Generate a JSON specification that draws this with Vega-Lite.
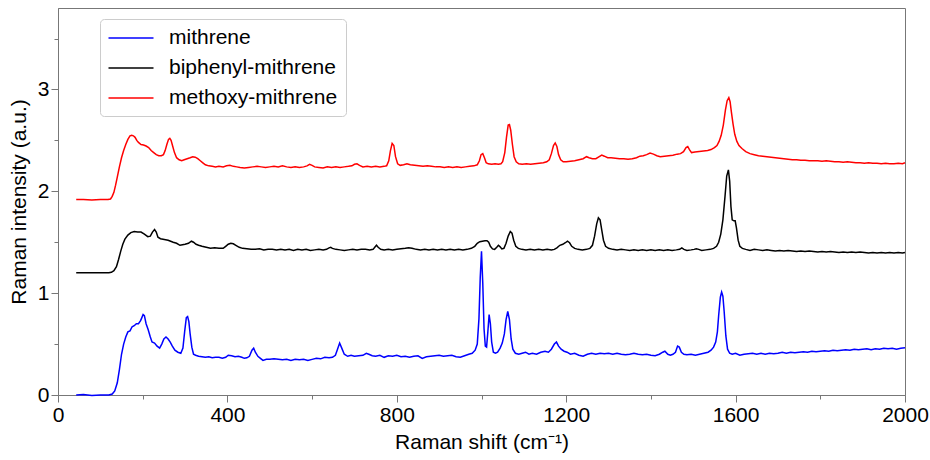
{
  "$schema": "https://vega.github.io/schema/vega-lite/v6.json",
  "width": 847,
  "height": 387,
  "autosize": {"type": "none"},
  "padding": {"left": 58, "top": 8, "right": 25, "bottom": 65},
  "background": "white",
  "config": {
    "view": {"stroke": "#777777", "strokeWidth": 1},
    "font": "Liberation Sans",
    "axis": {
      "domainColor": "#777777",
      "tickColor": "#777777",
      "labelColor": "#000000",
      "titleColor": "#000000",
      "labelFont": "Liberation Sans",
      "titleFont": "Liberation Sans",
      "labelFontSize": 21,
      "titleFontSize": 21,
      "titleFontWeight": "normal",
      "grid": false,
      "labelPadding": 2
    }
  },
  "datasets": {
    "m": [
      {"x":43,"y":0.0},{"x":60,"y":0.005},{"x":80,"y":-0.005},{"x":100,"y":0.0},{"x":120,"y":0.0},{"x":128,"y":0.01},{"x":134,"y":0.04},{"x":140,"y":0.12},{"x":145,"y":0.25},{"x":150,"y":0.40},{"x":155,"y":0.50},{"x":160,"y":0.57},{"x":165,"y":0.62},{"x":170,"y":0.63},{"x":175,"y":0.67},{"x":180,"y":0.68},{"x":185,"y":0.70},{"x":190,"y":0.70},{"x":195,"y":0.73},{"x":198,"y":0.76},{"x":201,"y":0.79},{"x":204,"y":0.78},{"x":208,"y":0.70},{"x":213,"y":0.64},{"x":218,"y":0.57},{"x":222,"y":0.52},{"x":228,"y":0.51},{"x":234,"y":0.48},{"x":240,"y":0.46},{"x":245,"y":0.50},{"x":250,"y":0.55},{"x":255,"y":0.57},{"x":260,"y":0.55},{"x":265,"y":0.52},{"x":270,"y":0.48},{"x":276,"y":0.44},{"x":283,"y":0.42},{"x":290,"y":0.41},{"x":295,"y":0.46},{"x":299,"y":0.62},{"x":303,"y":0.76},{"x":306,"y":0.77},{"x":309,"y":0.72},{"x":312,"y":0.60},{"x":316,"y":0.47},{"x":320,"y":0.40},{"x":325,"y":0.39},{"x":332,"y":0.38},{"x":340,"y":0.375},{"x":348,"y":0.37},{"x":356,"y":0.375},{"x":364,"y":0.365},{"x":372,"y":0.37},{"x":380,"y":0.37},{"x":388,"y":0.36},{"x":396,"y":0.37},{"x":402,"y":0.39},{"x":410,"y":0.385},{"x":418,"y":0.375},{"x":426,"y":0.38},{"x":434,"y":0.37},{"x":440,"y":0.36},{"x":446,"y":0.365},{"x":452,"y":0.38},{"x":458,"y":0.44},{"x":462,"y":0.46},{"x":466,"y":0.42},{"x":472,"y":0.38},{"x":478,"y":0.36},{"x":484,"y":0.34},{"x":492,"y":0.35},{"x":500,"y":0.35},{"x":510,"y":0.355},{"x":520,"y":0.35},{"x":530,"y":0.345},{"x":540,"y":0.35},{"x":550,"y":0.34},{"x":560,"y":0.35},{"x":570,"y":0.345},{"x":580,"y":0.35},{"x":590,"y":0.34},{"x":600,"y":0.35},{"x":610,"y":0.36},{"x":620,"y":0.355},{"x":630,"y":0.37},{"x":640,"y":0.365},{"x":648,"y":0.37},{"x":655,"y":0.39},{"x":660,"y":0.45},{"x":665,"y":0.51},{"x":670,"y":0.46},{"x":676,"y":0.40},{"x":684,"y":0.38},{"x":692,"y":0.39},{"x":700,"y":0.38},{"x":710,"y":0.385},{"x":720,"y":0.39},{"x":728,"y":0.41},{"x":734,"y":0.40},{"x":742,"y":0.385},{"x":750,"y":0.38},{"x":760,"y":0.39},{"x":770,"y":0.37},{"x":780,"y":0.385},{"x":790,"y":0.38},{"x":800,"y":0.39},{"x":810,"y":0.375},{"x":820,"y":0.38},{"x":830,"y":0.37},{"x":840,"y":0.38},{"x":850,"y":0.385},{"x":860,"y":0.36},{"x":870,"y":0.375},{"x":880,"y":0.38},{"x":890,"y":0.385},{"x":900,"y":0.39},{"x":910,"y":0.38},{"x":920,"y":0.385},{"x":930,"y":0.39},{"x":940,"y":0.375},{"x":950,"y":0.37},{"x":960,"y":0.385},{"x":970,"y":0.40},{"x":978,"y":0.41},{"x":985,"y":0.44},{"x":990,"y":0.50},{"x":994,"y":0.75},{"x":997,"y":1.15},{"x":1000,"y":1.41},{"x":1003,"y":1.1},{"x":1006,"y":0.65},{"x":1009,"y":0.48},{"x":1012,"y":0.47},{"x":1015,"y":0.62},{"x":1018,"y":0.79},{"x":1021,"y":0.70},{"x":1024,"y":0.52},{"x":1028,"y":0.42},{"x":1033,"y":0.41},{"x":1038,"y":0.42},{"x":1044,"y":0.46},{"x":1049,"y":0.51},{"x":1054,"y":0.60},{"x":1058,"y":0.74},{"x":1062,"y":0.82},{"x":1066,"y":0.74},{"x":1070,"y":0.55},{"x":1074,"y":0.45},{"x":1080,"y":0.41},{"x":1088,"y":0.40},{"x":1096,"y":0.41},{"x":1104,"y":0.42},{"x":1112,"y":0.40},{"x":1120,"y":0.41},{"x":1130,"y":0.40},{"x":1140,"y":0.42},{"x":1150,"y":0.43},{"x":1158,"y":0.42},{"x":1165,"y":0.45},{"x":1172,"y":0.50},{"x":1177,"y":0.52},{"x":1182,"y":0.48},{"x":1188,"y":0.45},{"x":1195,"y":0.43},{"x":1202,"y":0.42},{"x":1210,"y":0.40},{"x":1220,"y":0.41},{"x":1230,"y":0.39},{"x":1240,"y":0.38},{"x":1250,"y":0.40},{"x":1260,"y":0.41},{"x":1270,"y":0.40},{"x":1280,"y":0.41},{"x":1290,"y":0.405},{"x":1300,"y":0.41},{"x":1310,"y":0.40},{"x":1320,"y":0.41},{"x":1330,"y":0.40},{"x":1340,"y":0.395},{"x":1350,"y":0.40},{"x":1360,"y":0.41},{"x":1370,"y":0.40},{"x":1380,"y":0.395},{"x":1390,"y":0.40},{"x":1400,"y":0.39},{"x":1410,"y":0.385},{"x":1420,"y":0.40},{"x":1428,"y":0.42},{"x":1433,"y":0.43},{"x":1440,"y":0.40},{"x":1446,"y":0.39},{"x":1452,"y":0.40},{"x":1458,"y":0.42},{"x":1463,"y":0.48},{"x":1467,"y":0.47},{"x":1472,"y":0.42},{"x":1478,"y":0.40},{"x":1485,"y":0.395},{"x":1495,"y":0.40},{"x":1505,"y":0.39},{"x":1515,"y":0.40},{"x":1525,"y":0.41},{"x":1535,"y":0.42},{"x":1542,"y":0.44},{"x":1548,"y":0.47},{"x":1553,"y":0.52},{"x":1557,"y":0.62},{"x":1560,"y":0.78},{"x":1564,"y":0.96},{"x":1567,"y":1.01},{"x":1570,"y":0.97},{"x":1573,"y":0.82},{"x":1577,"y":0.58},{"x":1581,"y":0.45},{"x":1586,"y":0.41},{"x":1592,"y":0.40},{"x":1600,"y":0.41},{"x":1610,"y":0.39},{"x":1620,"y":0.40},{"x":1630,"y":0.405},{"x":1640,"y":0.41},{"x":1650,"y":0.40},{"x":1660,"y":0.41},{"x":1670,"y":0.40},{"x":1680,"y":0.41},{"x":1690,"y":0.405},{"x":1700,"y":0.41},{"x":1710,"y":0.42},{"x":1720,"y":0.41},{"x":1730,"y":0.42},{"x":1740,"y":0.415},{"x":1750,"y":0.42},{"x":1760,"y":0.425},{"x":1770,"y":0.42},{"x":1780,"y":0.43},{"x":1790,"y":0.425},{"x":1800,"y":0.43},{"x":1810,"y":0.435},{"x":1820,"y":0.43},{"x":1830,"y":0.44},{"x":1840,"y":0.435},{"x":1850,"y":0.44},{"x":1860,"y":0.445},{"x":1870,"y":0.44},{"x":1880,"y":0.45},{"x":1890,"y":0.445},{"x":1900,"y":0.45},{"x":1910,"y":0.455},{"x":1920,"y":0.445},{"x":1930,"y":0.455},{"x":1940,"y":0.45},{"x":1950,"y":0.46},{"x":1960,"y":0.455},{"x":1970,"y":0.46},{"x":1980,"y":0.45},{"x":1990,"y":0.46},{"x":2000,"y":0.465}
    ],
    "b": [
      {"x":43,"y":1.2},{"x":60,"y":1.2},{"x":80,"y":1.2},{"x":100,"y":1.2},{"x":120,"y":1.2},{"x":126,"y":1.205},{"x":132,"y":1.22},{"x":138,"y":1.26},{"x":143,"y":1.33},{"x":148,"y":1.41},{"x":153,"y":1.48},{"x":158,"y":1.53},{"x":165,"y":1.57},{"x":172,"y":1.595},{"x":180,"y":1.605},{"x":188,"y":1.60},{"x":196,"y":1.60},{"x":204,"y":1.58},{"x":212,"y":1.555},{"x":218,"y":1.56},{"x":223,"y":1.60},{"x":228,"y":1.625},{"x":232,"y":1.60},{"x":236,"y":1.55},{"x":242,"y":1.535},{"x":248,"y":1.53},{"x":254,"y":1.525},{"x":260,"y":1.52},{"x":266,"y":1.51},{"x":272,"y":1.50},{"x":280,"y":1.49},{"x":288,"y":1.47},{"x":294,"y":1.475},{"x":300,"y":1.48},{"x":308,"y":1.49},{"x":315,"y":1.51},{"x":320,"y":1.50},{"x":326,"y":1.48},{"x":332,"y":1.47},{"x":340,"y":1.46},{"x":350,"y":1.45},{"x":360,"y":1.44},{"x":370,"y":1.445},{"x":380,"y":1.44},{"x":390,"y":1.44},{"x":396,"y":1.46},{"x":402,"y":1.48},{"x":408,"y":1.49},{"x":414,"y":1.485},{"x":420,"y":1.47},{"x":428,"y":1.45},{"x":436,"y":1.44},{"x":446,"y":1.435},{"x":456,"y":1.43},{"x":466,"y":1.43},{"x":476,"y":1.435},{"x":486,"y":1.425},{"x":496,"y":1.43},{"x":506,"y":1.43},{"x":516,"y":1.425},{"x":526,"y":1.43},{"x":536,"y":1.425},{"x":546,"y":1.43},{"x":556,"y":1.42},{"x":566,"y":1.43},{"x":576,"y":1.425},{"x":586,"y":1.43},{"x":596,"y":1.42},{"x":606,"y":1.425},{"x":616,"y":1.43},{"x":626,"y":1.425},{"x":634,"y":1.43},{"x":640,"y":1.445},{"x":644,"y":1.45},{"x":648,"y":1.44},{"x":656,"y":1.43},{"x":666,"y":1.425},{"x":676,"y":1.42},{"x":686,"y":1.425},{"x":696,"y":1.43},{"x":706,"y":1.425},{"x":716,"y":1.43},{"x":726,"y":1.43},{"x":736,"y":1.425},{"x":744,"y":1.43},{"x":748,"y":1.45},{"x":752,"y":1.47},{"x":756,"y":1.45},{"x":762,"y":1.43},{"x":770,"y":1.425},{"x":780,"y":1.43},{"x":790,"y":1.425},{"x":800,"y":1.43},{"x":810,"y":1.435},{"x":820,"y":1.44},{"x":828,"y":1.445},{"x":836,"y":1.44},{"x":846,"y":1.43},{"x":856,"y":1.425},{"x":866,"y":1.43},{"x":876,"y":1.425},{"x":886,"y":1.43},{"x":896,"y":1.425},{"x":906,"y":1.43},{"x":916,"y":1.425},{"x":926,"y":1.43},{"x":936,"y":1.425},{"x":946,"y":1.43},{"x":956,"y":1.425},{"x":966,"y":1.43},{"x":976,"y":1.44},{"x":984,"y":1.46},{"x":990,"y":1.49},{"x":996,"y":1.505},{"x":1002,"y":1.51},{"x":1008,"y":1.515},{"x":1013,"y":1.515},{"x":1017,"y":1.50},{"x":1021,"y":1.46},{"x":1026,"y":1.435},{"x":1031,"y":1.43},{"x":1036,"y":1.45},{"x":1040,"y":1.47},{"x":1044,"y":1.455},{"x":1048,"y":1.435},{"x":1053,"y":1.44},{"x":1058,"y":1.49},{"x":1063,"y":1.56},{"x":1068,"y":1.605},{"x":1072,"y":1.59},{"x":1076,"y":1.52},{"x":1081,"y":1.46},{"x":1087,"y":1.44},{"x":1095,"y":1.43},{"x":1105,"y":1.425},{"x":1115,"y":1.43},{"x":1125,"y":1.425},{"x":1135,"y":1.43},{"x":1145,"y":1.425},{"x":1155,"y":1.43},{"x":1165,"y":1.425},{"x":1172,"y":1.43},{"x":1178,"y":1.445},{"x":1185,"y":1.47},{"x":1192,"y":1.48},{"x":1198,"y":1.495},{"x":1203,"y":1.51},{"x":1208,"y":1.495},{"x":1213,"y":1.46},{"x":1220,"y":1.44},{"x":1228,"y":1.43},{"x":1238,"y":1.425},{"x":1248,"y":1.43},{"x":1256,"y":1.44},{"x":1262,"y":1.47},{"x":1267,"y":1.56},{"x":1272,"y":1.68},{"x":1276,"y":1.74},{"x":1280,"y":1.72},{"x":1284,"y":1.62},{"x":1288,"y":1.52},{"x":1293,"y":1.46},{"x":1300,"y":1.44},{"x":1310,"y":1.43},{"x":1320,"y":1.425},{"x":1330,"y":1.43},{"x":1340,"y":1.425},{"x":1350,"y":1.42},{"x":1360,"y":1.425},{"x":1370,"y":1.42},{"x":1380,"y":1.425},{"x":1390,"y":1.42},{"x":1400,"y":1.425},{"x":1410,"y":1.42},{"x":1420,"y":1.425},{"x":1430,"y":1.42},{"x":1440,"y":1.425},{"x":1450,"y":1.42},{"x":1460,"y":1.425},{"x":1468,"y":1.43},{"x":1473,"y":1.445},{"x":1478,"y":1.43},{"x":1485,"y":1.42},{"x":1495,"y":1.425},{"x":1502,"y":1.43},{"x":1507,"y":1.435},{"x":1513,"y":1.43},{"x":1520,"y":1.42},{"x":1530,"y":1.425},{"x":1540,"y":1.43},{"x":1548,"y":1.44},{"x":1555,"y":1.46},{"x":1560,"y":1.50},{"x":1565,"y":1.58},{"x":1570,"y":1.72},{"x":1575,"y":1.95},{"x":1579,"y":2.15},{"x":1583,"y":2.21},{"x":1586,"y":2.10},{"x":1589,"y":1.85},{"x":1592,"y":1.72},{"x":1596,"y":1.71},{"x":1599,"y":1.71},{"x":1602,"y":1.64},{"x":1606,"y":1.52},{"x":1610,"y":1.46},{"x":1616,"y":1.44},{"x":1624,"y":1.43},{"x":1634,"y":1.42},{"x":1644,"y":1.43},{"x":1654,"y":1.425},{"x":1664,"y":1.42},{"x":1674,"y":1.425},{"x":1684,"y":1.42},{"x":1694,"y":1.415},{"x":1704,"y":1.42},{"x":1714,"y":1.415},{"x":1724,"y":1.42},{"x":1734,"y":1.415},{"x":1744,"y":1.41},{"x":1754,"y":1.415},{"x":1764,"y":1.41},{"x":1774,"y":1.415},{"x":1784,"y":1.41},{"x":1794,"y":1.405},{"x":1804,"y":1.41},{"x":1814,"y":1.405},{"x":1824,"y":1.41},{"x":1834,"y":1.405},{"x":1844,"y":1.40},{"x":1854,"y":1.405},{"x":1864,"y":1.40},{"x":1874,"y":1.405},{"x":1884,"y":1.40},{"x":1894,"y":1.405},{"x":1904,"y":1.40},{"x":1914,"y":1.395},{"x":1924,"y":1.40},{"x":1934,"y":1.395},{"x":1944,"y":1.40},{"x":1954,"y":1.395},{"x":1964,"y":1.40},{"x":1974,"y":1.395},{"x":1984,"y":1.40},{"x":1994,"y":1.395},{"x":2000,"y":1.40}
    ],
    "o": [
      {"x":43,"y":1.92},{"x":60,"y":1.92},{"x":80,"y":1.915},{"x":100,"y":1.92},{"x":118,"y":1.92},{"x":124,"y":1.925},{"x":128,"y":1.95},{"x":132,"y":1.99},{"x":136,"y":2.06},{"x":140,"y":2.14},{"x":145,"y":2.24},{"x":150,"y":2.33},{"x":155,"y":2.40},{"x":160,"y":2.46},{"x":165,"y":2.51},{"x":170,"y":2.545},{"x":174,"y":2.55},{"x":178,"y":2.545},{"x":182,"y":2.53},{"x":186,"y":2.50},{"x":190,"y":2.48},{"x":196,"y":2.46},{"x":202,"y":2.455},{"x":208,"y":2.445},{"x":214,"y":2.43},{"x":220,"y":2.40},{"x":226,"y":2.38},{"x":232,"y":2.36},{"x":238,"y":2.35},{"x":244,"y":2.35},{"x":249,"y":2.36},{"x":253,"y":2.40},{"x":257,"y":2.46},{"x":261,"y":2.51},{"x":264,"y":2.52},{"x":267,"y":2.50},{"x":271,"y":2.44},{"x":275,"y":2.38},{"x":280,"y":2.33},{"x":286,"y":2.31},{"x":292,"y":2.30},{"x":298,"y":2.31},{"x":305,"y":2.32},{"x":312,"y":2.33},{"x":318,"y":2.34},{"x":324,"y":2.335},{"x":330,"y":2.32},{"x":336,"y":2.30},{"x":342,"y":2.28},{"x":348,"y":2.26},{"x":356,"y":2.25},{"x":364,"y":2.245},{"x":372,"y":2.24},{"x":380,"y":2.245},{"x":390,"y":2.24},{"x":398,"y":2.25},{"x":406,"y":2.255},{"x":414,"y":2.245},{"x":422,"y":2.24},{"x":430,"y":2.235},{"x":440,"y":2.23},{"x":450,"y":2.235},{"x":460,"y":2.24},{"x":470,"y":2.245},{"x":480,"y":2.24},{"x":490,"y":2.235},{"x":500,"y":2.24},{"x":510,"y":2.245},{"x":520,"y":2.24},{"x":530,"y":2.25},{"x":540,"y":2.24},{"x":550,"y":2.235},{"x":560,"y":2.24},{"x":570,"y":2.235},{"x":580,"y":2.24},{"x":588,"y":2.25},{"x":594,"y":2.265},{"x":600,"y":2.255},{"x":606,"y":2.24},{"x":616,"y":2.235},{"x":626,"y":2.23},{"x":636,"y":2.24},{"x":646,"y":2.235},{"x":656,"y":2.24},{"x":666,"y":2.235},{"x":676,"y":2.24},{"x":686,"y":2.245},{"x":694,"y":2.25},{"x":700,"y":2.265},{"x":706,"y":2.27},{"x":712,"y":2.255},{"x":720,"y":2.24},{"x":730,"y":2.245},{"x":740,"y":2.24},{"x":750,"y":2.245},{"x":760,"y":2.24},{"x":770,"y":2.245},{"x":776,"y":2.25},{"x":781,"y":2.30},{"x":785,"y":2.40},{"x":789,"y":2.47},{"x":793,"y":2.45},{"x":797,"y":2.34},{"x":802,"y":2.27},{"x":808,"y":2.255},{"x":816,"y":2.26},{"x":824,"y":2.27},{"x":832,"y":2.26},{"x":842,"y":2.255},{"x":852,"y":2.25},{"x":862,"y":2.245},{"x":872,"y":2.25},{"x":882,"y":2.245},{"x":892,"y":2.24},{"x":902,"y":2.24},{"x":912,"y":2.235},{"x":922,"y":2.24},{"x":932,"y":2.235},{"x":942,"y":2.24},{"x":952,"y":2.235},{"x":962,"y":2.24},{"x":972,"y":2.245},{"x":982,"y":2.25},{"x":990,"y":2.26},{"x":995,"y":2.30},{"x":999,"y":2.36},{"x":1003,"y":2.37},{"x":1007,"y":2.33},{"x":1011,"y":2.28},{"x":1016,"y":2.27},{"x":1024,"y":2.265},{"x":1032,"y":2.27},{"x":1040,"y":2.265},{"x":1046,"y":2.27},{"x":1050,"y":2.29},{"x":1055,"y":2.38},{"x":1059,"y":2.53},{"x":1063,"y":2.65},{"x":1066,"y":2.655},{"x":1069,"y":2.60},{"x":1073,"y":2.46},{"x":1077,"y":2.34},{"x":1082,"y":2.29},{"x":1088,"y":2.27},{"x":1096,"y":2.265},{"x":1106,"y":2.27},{"x":1116,"y":2.265},{"x":1126,"y":2.27},{"x":1136,"y":2.275},{"x":1146,"y":2.28},{"x":1154,"y":2.29},{"x":1160,"y":2.31},{"x":1165,"y":2.37},{"x":1170,"y":2.45},{"x":1174,"y":2.475},{"x":1178,"y":2.44},{"x":1182,"y":2.36},{"x":1187,"y":2.31},{"x":1193,"y":2.29},{"x":1200,"y":2.29},{"x":1210,"y":2.295},{"x":1220,"y":2.30},{"x":1230,"y":2.31},{"x":1240,"y":2.32},{"x":1248,"y":2.34},{"x":1254,"y":2.33},{"x":1262,"y":2.32},{"x":1270,"y":2.32},{"x":1278,"y":2.34},{"x":1284,"y":2.355},{"x":1290,"y":2.345},{"x":1298,"y":2.33},{"x":1306,"y":2.33},{"x":1316,"y":2.325},{"x":1326,"y":2.32},{"x":1336,"y":2.32},{"x":1346,"y":2.315},{"x":1356,"y":2.32},{"x":1366,"y":2.33},{"x":1374,"y":2.345},{"x":1382,"y":2.35},{"x":1390,"y":2.36},{"x":1398,"y":2.375},{"x":1406,"y":2.365},{"x":1414,"y":2.35},{"x":1422,"y":2.34},{"x":1432,"y":2.345},{"x":1442,"y":2.35},{"x":1452,"y":2.355},{"x":1462,"y":2.365},{"x":1470,"y":2.37},{"x":1477,"y":2.39},{"x":1483,"y":2.43},{"x":1487,"y":2.44},{"x":1491,"y":2.41},{"x":1496,"y":2.38},{"x":1504,"y":2.385},{"x":1514,"y":2.39},{"x":1524,"y":2.395},{"x":1534,"y":2.40},{"x":1542,"y":2.41},{"x":1550,"y":2.43},{"x":1556,"y":2.45},{"x":1561,"y":2.49},{"x":1566,"y":2.55},{"x":1571,"y":2.65},{"x":1576,"y":2.80},{"x":1580,"y":2.89},{"x":1584,"y":2.92},{"x":1587,"y":2.88},{"x":1590,"y":2.78},{"x":1594,"y":2.66},{"x":1598,"y":2.56},{"x":1603,"y":2.49},{"x":1608,"y":2.45},{"x":1615,"y":2.42},{"x":1624,"y":2.39},{"x":1634,"y":2.37},{"x":1644,"y":2.36},{"x":1654,"y":2.35},{"x":1664,"y":2.345},{"x":1674,"y":2.34},{"x":1684,"y":2.335},{"x":1694,"y":2.33},{"x":1704,"y":2.325},{"x":1714,"y":2.32},{"x":1724,"y":2.315},{"x":1734,"y":2.31},{"x":1744,"y":2.31},{"x":1754,"y":2.305},{"x":1764,"y":2.305},{"x":1774,"y":2.30},{"x":1784,"y":2.30},{"x":1794,"y":2.30},{"x":1804,"y":2.295},{"x":1814,"y":2.30},{"x":1824,"y":2.295},{"x":1834,"y":2.29},{"x":1844,"y":2.29},{"x":1854,"y":2.285},{"x":1864,"y":2.29},{"x":1874,"y":2.285},{"x":1884,"y":2.28},{"x":1894,"y":2.28},{"x":1904,"y":2.275},{"x":1914,"y":2.28},{"x":1924,"y":2.275},{"x":1934,"y":2.275},{"x":1944,"y":2.27},{"x":1954,"y":2.275},{"x":1964,"y":2.27},{"x":1974,"y":2.27},{"x":1984,"y":2.275},{"x":1994,"y":2.27},{"x":2000,"y":2.28}
    ]
  },
  "encoding": {
    "x": {
      "field": "x", "type": "quantitative",
      "scale": {"domain": [0, 2000], "nice": false, "zero": false},
      "axis": {
        "title": "Raman shift (cm⁻¹)",
        "values": [0,200,400,600,800,1000,1200,1400,1600,1800,2000],
        "labelExpr": "datum.value % 400 === 0 ? format(datum.value, 'd') : ''",
        "tickSize": {"condition": {"test": "datum.value % 400 === 0", "value": 7}, "value": 4},
        "labelFlush": false,
        "titlePadding": 6
      }
    },
    "y": {
      "field": "y", "type": "quantitative",
      "scale": {"domain": [0, 3.8], "nice": false, "zero": false},
      "axis": {
        "title": "Raman intensity (a.u.)",
        "values": [0,0.5,1,1.5,2,2.5,3,3.5],
        "labelExpr": "datum.value % 1 === 0 ? format(datum.value, 'd') : ''",
        "tickSize": {"condition": {"test": "datum.value % 1 === 0", "value": 7}, "value": 4},
        "labelFlush": false,
        "titlePadding": 8
      }
    },
    "color": {
      "scale": {
        "domain": ["mithrene", "biphenyl-mithrene", "methoxy-mithrene"],
        "range": ["#0000ff", "#000000", "#ff0000"]
      },
      "legend": {
        "title": null,
        "orient": "none",
        "legendX": 42,
        "legendY": 11,
        "padding": 8,
        "fillColor": "white",
        "strokeColor": "#cccccc",
        "cornerRadius": 4,
        "symbolType": "M-2.25,0H2.25",
        "symbolSize": 400,
        "symbolStrokeWidth": 1.5,
        "symbolOffset": 12,
        "labelOffset": 27,
        "labelFontSize": 21,
        "labelFont": "Liberation Sans",
        "labelColor": "#000000",
        "rowPadding": 9,
        "labelLimit": 400
      }
    }
  },
  "layer": [
    {"data": {"name": "m"}, "mark": {"type": "line", "strokeWidth": 1.5}, "encoding": {"color": {"datum": "mithrene"}}},
    {"data": {"name": "b"}, "mark": {"type": "line", "strokeWidth": 1.5}, "encoding": {"color": {"datum": "biphenyl-mithrene"}}},
    {"data": {"name": "o"}, "mark": {"type": "line", "strokeWidth": 1.5}, "encoding": {"color": {"datum": "methoxy-mithrene"}}}
  ]
}
